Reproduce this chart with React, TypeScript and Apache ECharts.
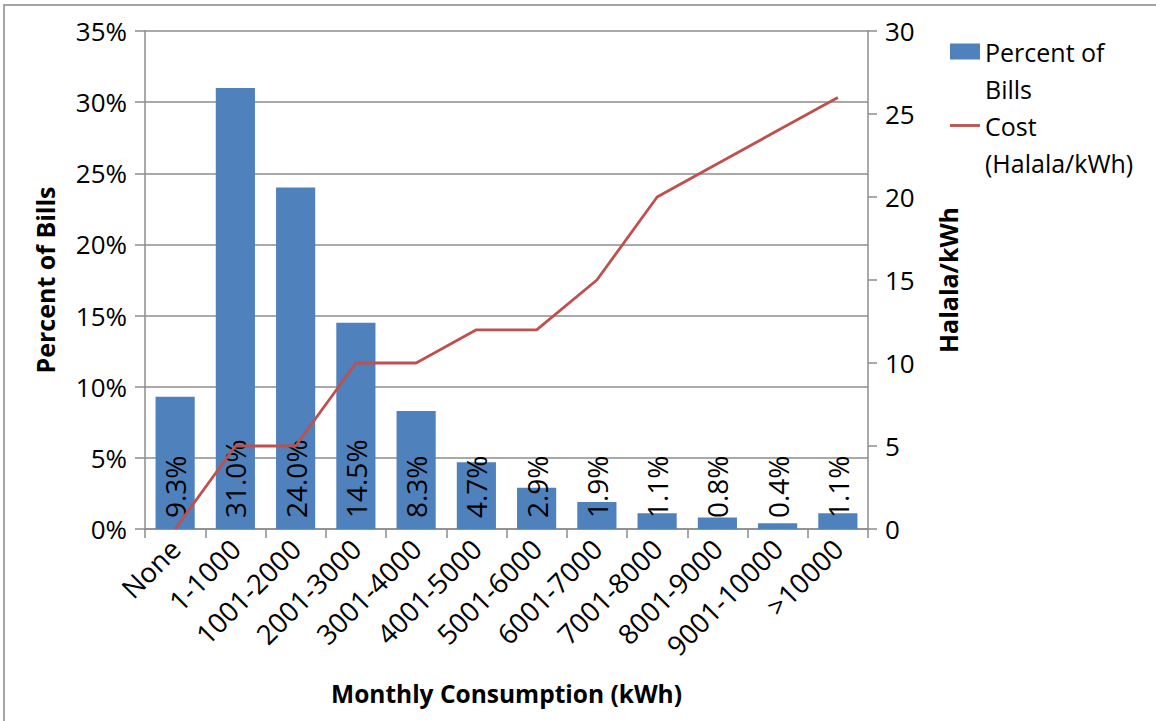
import React, { useEffect, useRef } from "react";
import * as echarts from "echarts";

const categories = ["None", "1-1000", "1001-2000", "2001-3000", "3001-4000", "4001-5000", "5001-6000", "6001-7000", "7001-8000", "8001-9000", "9001-10000", ">10000"];
const percentOfBills = [9.3, 31.0, 24.0, 14.5, 8.3, 4.7, 2.9, 1.9, 1.1, 0.8, 0.4, 1.1];
const costHalala = [0, 5, 5, 10, 10, 12, 12, 15, 20, 22, 24, 26];

const FONT = "'Open Sans', sans-serif";
const AXIS_GRAY = "#8c8c8c";

export default function App() {
  const ref = useRef<HTMLDivElement>(null);
  useEffect(() => {
    if (!ref.current) return;
    const chart = echarts.init(ref.current, null, { renderer: "svg" });
    chart.setOption({
      animation: false,
      backgroundColor: "#ffffff",
      textStyle: { fontFamily: FONT },
      graphic: [
        {
          type: "rect",
          shape: { x: 4, y: 5, width: 1170, height: 730 },
          style: { fill: "none", stroke: "#888888", lineWidth: 1.5 },
          silent: true,
        },
      ],
      grid: { left: 145, right: 288, top: 31, bottom: 192, containLabel: false },
      legend: {
        orient: "vertical",
        left: 950,
        top: -4,
        padding: 0,
        itemWidth: 30,
        itemHeight: 16,
        itemGap: -37,
        selectedMode: false,
        textStyle: {
          fontFamily: FONT,
          fontSize: 25,
          color: "#000",
          lineHeight: 37,
        },
        formatter: (name: string) =>
          name === "Percent of Bills" ? "\nPercent of\nBills" : "\nCost\n(Halala/kWh)",
        data: [
          { name: "Percent of Bills", icon: "rect" },
          { name: "Cost (Halala/kWh)", icon: "path://M0,0 L32,0 L32,3 L0,3 Z", itemStyle: { color: "#c0504d" } },
        ],
      },
      xAxis: {
        type: "category",
        data: categories,
        boundaryGap: true,
        axisLine: { lineStyle: { color: AXIS_GRAY, width: 1.5 } },
        axisTick: { show: true, length: 9, lineStyle: { color: AXIS_GRAY, width: 1.5 } },
        axisLabel: { rotate: 45, fontSize: 27.5, color: "#000", fontFamily: FONT, margin: 15, interval: 0 },
        name: "Monthly Consumption (kWh)",
        nameLocation: "middle",
        nameGap: 152,
        nameTextStyle: { fontSize: 24.5, fontWeight: "bold", color: "#000", fontFamily: FONT },
      },
      yAxis: [
        {
          type: "value",
          min: 0,
          max: 35,
          interval: 5,
          axisLine: { show: true, lineStyle: { color: AXIS_GRAY, width: 1.5 } },
          axisTick: { show: true, length: 10, lineStyle: { color: AXIS_GRAY, width: 1.5 } },
          splitLine: { show: true, lineStyle: { color: AXIS_GRAY, width: 1.5 } },
          axisLabel: { formatter: "{value}%", fontSize: 26, color: "#000", fontFamily: FONT, margin: 18 },
          name: "Percent of Bills",
          nameLocation: "middle",
          nameRotate: 90,
          nameGap: 88,
          nameTextStyle: { fontSize: 25, fontWeight: "bold", color: "#000", fontFamily: FONT },
        },
        {
          type: "value",
          min: 0,
          max: 30,
          interval: 5,
          position: "right",
          axisLine: { show: true, lineStyle: { color: AXIS_GRAY, width: 1.5 } },
          axisTick: { show: true, length: 9, lineStyle: { color: AXIS_GRAY, width: 1.5 } },
          splitLine: { show: false },
          axisLabel: { fontSize: 26, color: "#000", fontFamily: FONT, margin: 17 },
          name: "Halala/kWh",
          nameLocation: "middle",
          nameRotate: 90,
          nameGap: 67,
          nameTextStyle: { fontSize: 25, fontWeight: "bold", color: "#000", fontFamily: FONT },
        },
      ],
      series: [
        {
          name: "Percent of Bills",
          type: "bar",
          yAxisIndex: 0,
          data: percentOfBills,
          barWidth: "65%",
          itemStyle: { color: "#4f81bd" },
          label: {
            show: true,
            position: "insideBottom",
            rotate: 90,
            align: "left",
            verticalAlign: "middle",
            distance: 11,
            fontSize: 28,
            color: "#000",
            fontFamily: FONT,
            formatter: (p: any) => p.value.toFixed(1) + "%",
          },
        },
        {
          name: "Cost (Halala/kWh)",
          type: "line",
          yAxisIndex: 1,
          data: costHalala,
          symbol: "none",
          lineStyle: { color: "#c0504d", width: 2.8 },
          itemStyle: { color: "#c0504d" },
        },
      ],
    });
    return () => chart.dispose();
  }, []);
  return (
    <div
      ref={ref}
      style={{ position: "fixed", left: 0, top: 0, width: 1156, height: 721 }}
    />
  );
}
